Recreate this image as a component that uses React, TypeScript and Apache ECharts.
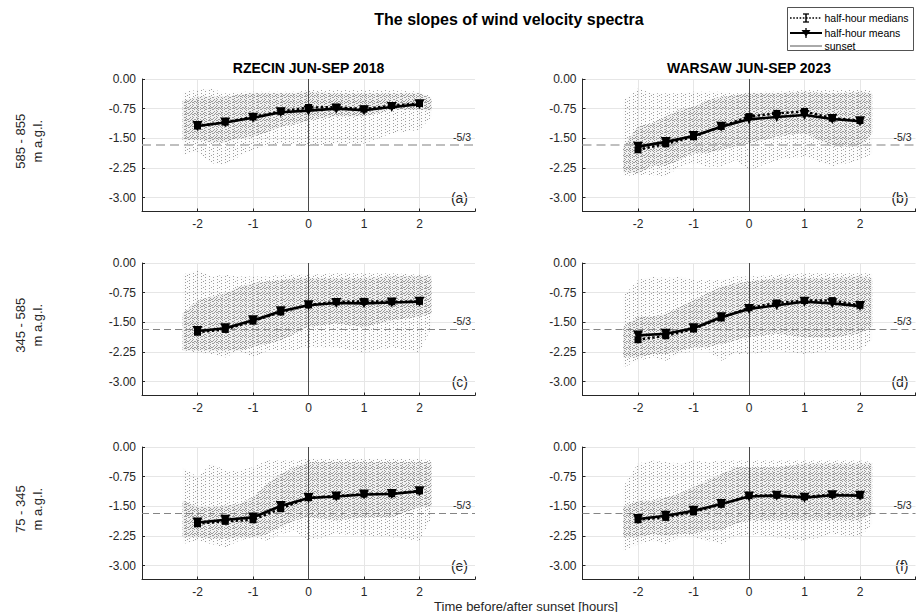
import React, { useEffect, useRef } from "react";
import * as echarts from "echarts";

// ---------- data ----------
// hours before/after sunset of the half-hour statistics
const HOURS = [-2, -1.5, -1, -0.5, 0, 0.5, 1, 1.5, 2];
const X_TICK_LABELS = ["-2", "-1", "0", "1", "2"];
const Y_TICK_VALUES = [0, -0.75, -1.5, -2.25, -3];
const KOLMOGOROV = -5 / 3;

// (a) Rzecin 585-855 m
const MEANS_A = [-1.19, -1.1, -0.98, -0.84, -0.8, -0.75, -0.79, -0.71, -0.64];
const MEDIANS_A = [-1.19, -1.09, -0.96, -0.82, -0.72, -0.71, -0.76, -0.67, -0.62];
// (b) Warsaw 585-855 m
const MEANS_B = [-1.71, -1.59, -1.44, -1.21, -1.02, -0.96, -0.91, -1.01, -1.07];
const MEDIANS_B = [-1.79, -1.64, -1.46, -1.2, -0.95, -0.87, -0.82, -0.99, -1.05];
// (c) Rzecin 345-585 m
const MEANS_C = [-1.72, -1.65, -1.45, -1.22, -1.07, -1.01, -1.02, -1.0, -0.98];
const MEDIANS_C = [-1.75, -1.68, -1.47, -1.24, -1.06, -0.98, -0.97, -0.98, -0.97];
// (d) Warsaw 345-585 m
const MEANS_D = [-1.83, -1.79, -1.65, -1.37, -1.16, -1.07, -0.98, -1.02, -1.09];
const MEDIANS_D = [-1.94, -1.84, -1.67, -1.39, -1.13, -1.01, -0.95, -0.95, -1.07];
// (e) Rzecin 75-345 m
const MEANS_E = [-1.91, -1.84, -1.78, -1.49, -1.29, -1.25, -1.2, -1.19, -1.12];
const MEDIANS_E = [-1.94, -1.88, -1.84, -1.56, -1.28, -1.24, -1.19, -1.18, -1.11];
// (f) Warsaw 75-345 m
const MEANS_F = [-1.82, -1.74, -1.61, -1.44, -1.25, -1.23, -1.28, -1.22, -1.23];
const MEDIANS_F = [-1.84, -1.78, -1.64, -1.45, -1.23, -1.22, -1.26, -1.2, -1.22];

// extent of the cloud of individual slope estimates (outer = sparse, core = dense)
const CLOUD_X = [-2.27, -2, -1.75, -1.5, -1.25, -1, -0.75, -0.5, -0.25, 0, 0.5, 1, 1.5, 2, 2.22];

const A_HI_OUT = [-0.32, -0.28, -0.24, -0.36, -0.32, -0.32, -0.32, -0.32, -0.32, -0.28, -0.28, -0.28, -0.28, -0.32, -0.45];
const A_LO_OUT = [-1.92, -1.84, -2.13, -2.17, -1.96, -1.79, -1.71, -1.63, -1.67, -1.71, -1.63, -1.63, -1.37, -1.29, -0.95];
const A_HI_CORE = [-0.55, -0.45, -0.45, -0.45, -0.4, -0.36, -0.36, -0.36, -0.36, -0.32, -0.36, -0.36, -0.36, -0.36, -0.5];
const A_LO_CORE = [-1.55, -1.54, -1.6, -1.6, -1.5, -1.46, -1.35, -1.2, -1.15, -1.04, -0.95, -0.95, -0.78, -0.78, -0.8];

const B_HI_OUT = [-0.55, -0.24, -0.36, -0.36, -0.36, -0.32, -0.32, -0.32, -0.36, -0.32, -0.32, -0.28, -0.28, -0.28, -0.28];
const B_LO_OUT = [-2.45, -2.43, -2.43, -2.47, -2.22, -2.13, -2.22, -2.22, -2.05, -2.3, -2.05, -1.96, -2.22, -2.05, -1.88];
const B_HI_CORE = [-1.7, -1.2, -1.12, -0.95, -0.78, -0.7, -0.53, -0.45, -0.41, -0.36, -0.36, -0.32, -0.36, -0.32, -0.36];
const B_LO_CORE = [-2.35, -2.38, -2.2, -2.2, -2.05, -1.88, -1.88, -1.79, -1.71, -1.63, -1.46, -1.37, -1.71, -1.71, -1.37];

const C_HI_OUT = [-0.3, -0.17, -0.34, -0.3, -0.34, -0.34, -0.34, -0.3, -0.3, -0.3, -0.26, -0.26, -0.26, -0.3, -0.3];
const C_LO_OUT = [-2.22, -2.26, -2.3, -2.39, -2.22, -2.39, -2.22, -2.22, -2.22, -2.13, -2.13, -2.26, -2.13, -2.26, -1.62];
const C_HI_CORE = [-1.28, -0.94, -0.85, -0.77, -0.6, -0.51, -0.47, -0.43, -0.38, -0.38, -0.38, -0.38, -0.34, -0.34, -0.34];
const C_LO_CORE = [-2.22, -2.22, -2.22, -2.22, -2.22, -2.13, -2.05, -1.96, -1.79, -1.62, -1.53, -1.62, -1.45, -1.36, -1.28];

const D_HI_OUT = [-0.85, -0.43, -0.34, -0.38, -0.34, -0.43, -0.43, -0.43, -0.34, -0.34, -0.3, -0.26, -0.26, -0.26, -0.26];
const D_LO_OUT = [-2.64, -2.47, -2.39, -2.47, -2.3, -2.22, -2.22, -2.47, -2.3, -2.3, -2.22, -2.3, -2.22, -2.22, -1.96];
const D_HI_CORE = [-1.62, -1.36, -1.36, -1.28, -1.11, -0.94, -0.77, -0.6, -0.51, -0.47, -0.38, -0.38, -0.38, -0.34, -0.38];
const D_LO_CORE = [-2.39, -2.39, -2.3, -2.3, -2.22, -2.13, -2.13, -2.05, -1.96, -1.88, -1.79, -1.88, -1.88, -1.79, -1.62];

const E_HI_OUT = [-0.51, -0.76, -0.42, -0.59, -0.59, -0.51, -0.34, -0.34, -0.34, -0.3, -0.3, -0.3, -0.3, -0.3, -0.34];
const E_LO_OUT = [-2.45, -2.37, -2.45, -2.54, -2.37, -2.28, -2.37, -2.2, -2.11, -2.37, -2.2, -2.24, -2.28, -2.37, -1.78];
const E_HI_CORE = [-1.35, -1.52, -1.52, -1.48, -1.44, -1.27, -0.93, -0.68, -0.51, -0.38, -0.38, -0.38, -0.38, -0.38, -0.38];
const E_LO_CORE = [-2.28, -2.28, -2.32, -2.32, -2.28, -2.28, -2.2, -2.03, -1.86, -1.78, -1.86, -1.78, -1.78, -1.52, -1.52];

const F_HI_OUT = [-1.01, -0.42, -0.34, -0.38, -0.42, -0.34, -0.38, -0.34, -0.34, -0.34, -0.34, -0.34, -0.34, -0.34, -0.38];
const F_LO_OUT = [-2.62, -2.45, -2.37, -2.45, -2.28, -2.28, -2.37, -2.45, -2.28, -2.2, -2.28, -2.37, -2.2, -2.28, -1.94];
const F_HI_CORE = [-1.52, -1.35, -1.35, -1.27, -1.18, -1.01, -0.85, -0.68, -0.51, -0.51, -0.51, -0.42, -0.42, -0.42, -0.42];
const F_LO_CORE = [-2.28, -2.28, -2.2, -2.24, -2.2, -2.2, -2.11, -2.11, -1.94, -1.86, -1.86, -1.86, -1.86, -1.86, -1.69];

const COLUMN_TITLES = ["RZECIN JUN-SEP 2018", "WARSAW JUN-SEP 2023"];
const ROW_LABELS = ["585 - 855\nm a.g.l.", "345 - 585\nm a.g.l.", "75 - 345\nm a.g.l."];
const PANEL_LETTERS = ["(a)", "(b)", "(c)", "(d)", "(e)", "(f)"];

// ---------- layout / style ----------
const FONT = '"Liberation Sans", Arial, Helvetica, sans-serif';
const INK = "#262626";
const COL_LEFT = [142, 582.5];
const ROW_TOP = [79, 263, 447];
const PANEL_W = 333;
const PANEL_H = 132.5;
const Y_BOTTOM = -3.35;
const X_MIN = -3;
const X_MAX = 3;
const GRID_COLOR = "#e6e6e6";

const PANELS = [
  { means: MEANS_A, medians: MEDIANS_A, cloud: [A_HI_OUT, A_LO_OUT, A_HI_CORE, A_LO_CORE] },
  { means: MEANS_B, medians: MEDIANS_B, cloud: [B_HI_OUT, B_LO_OUT, B_HI_CORE, B_LO_CORE] },
  { means: MEANS_C, medians: MEDIANS_C, cloud: [C_HI_OUT, C_LO_OUT, C_HI_CORE, C_LO_CORE] },
  { means: MEANS_D, medians: MEDIANS_D, cloud: [D_HI_OUT, D_LO_OUT, D_HI_CORE, D_LO_CORE] },
  { means: MEANS_E, medians: MEDIANS_E, cloud: [E_HI_OUT, E_LO_OUT, E_HI_CORE, E_LO_CORE] },
  { means: MEANS_F, medians: MEDIANS_F, cloud: [F_HI_OUT, F_LO_OUT, F_HI_CORE, F_LO_CORE] },
];

// small fixed texture tiles giving the cloud areas a speckled, streaky look
function makeTile(w: number, h: number, dots: number[][], dotColor: string, bg?: string): any {
  const c = document.createElement("canvas");
  c.width = w;
  c.height = h;
  const ctx = c.getContext("2d");
  if (ctx) {
    if (bg) {
      ctx.fillStyle = bg;
      ctx.fillRect(0, 0, w, h);
    }
    ctx.fillStyle = dotColor;
    dots.forEach(([x, y]) => ctx.fillRect(x, y, 1, 1));
  }
  return c;
}

function buildOption() {
  const outerTile = makeTile(
    8,
    6,
    [
      [1, 0],
      [1, 3],
      [5, 1],
      [5, 4],
      [3, 5],
    ],
    "rgba(125,125,125,0.75)",
    "rgba(160,160,160,0.03)"
  );
  const coreTile = makeTile(
    6,
    6,
    [
      [0, 0],
      [0, 2],
      [0, 4],
      [2, 1],
      [2, 5],
      [4, 0],
      [4, 3],
      [5, 5],
    ],
    "rgba(125,125,125,0.75)",
    "rgba(150,150,150,0.10)"
  );
  const OUT_FILL: any = { image: outerTile, repeat: "repeat" };
  const CORE_FILL: any = { image: coreTile, repeat: "repeat" };

  const grid: any[] = [];
  const xAxis: any[] = [];
  const yAxis: any[] = [];
  const series: any[] = [];
  const graphic: any[] = [];

  PANELS.forEach((p, i) => {
    const row = Math.floor(i / 2);
    const col = i % 2;
    grid.push({
      left: COL_LEFT[col],
      top: ROW_TOP[row],
      width: PANEL_W,
      height: PANEL_H,
      containLabel: false,
      outerBoundsMode: "none",
    });
    xAxis.push({
      gridIndex: i,
      type: "value",
      min: X_MIN,
      max: X_MAX,
      interval: 1,
      axisLine: { show: true, onZero: false, lineStyle: { color: INK, width: 1 } },
      axisTick: { show: true, inside: true, length: 3, lineStyle: { color: INK } },
      axisLabel: {
        color: INK,
        fontSize: 12,
        fontFamily: FONT,
        margin: 6,
        formatter: (v: number) => {
          const s = String(v);
          return X_TICK_LABELS.indexOf(s) >= 0 ? s : "";
        },
      },
      splitLine: { show: true, showMinLine: false, showMaxLine: false, lineStyle: { color: GRID_COLOR, width: 1 } },
    });
    yAxis.push({
      gridIndex: i,
      type: "value",
      inverse: true,
      min: 0,
      max: -Y_BOTTOM,
      interval: 0.75,
      axisLine: { show: true, onZero: false, lineStyle: { color: INK, width: 1 } },
      axisTick: { show: true, inside: true, length: 3, lineStyle: { color: INK } },
      axisLabel: {
        color: INK,
        fontSize: 12,
        fontFamily: FONT,
        margin: 6,
        showMaxLabel: false,
        formatter: (v: number) => {
          const hit = Y_TICK_VALUES.find((t) => Math.abs(-t - v) < 1e-6);
          if (hit === undefined) return "";
          return hit === 0 ? "0.00" : hit.toFixed(2);
        },
      },
      splitLine: { show: true, showMaxLine: false, lineStyle: { color: GRID_COLOR, width: 1 } },
    });

    const [hiOut, loOut, hiCore, loCore] = p.cloud;
    series.push({
      type: "custom",
      xAxisIndex: i,
      yAxisIndex: i,
      silent: true,
      z: 1,
      data: [
        [0, 0],
        [1, 0],
      ],
      renderItem: (params: any, api: any) => {
        const core = params.dataIndex === 1;
        const hi = core ? hiCore : hiOut;
        const lo = core ? loCore : loOut;
        const pts: number[][] = [];
        for (let k = 0; k < CLOUD_X.length; k++) pts.push(api.coord([CLOUD_X[k], -hi[k]]));
        for (let k = CLOUD_X.length - 1; k >= 0; k--) pts.push(api.coord([CLOUD_X[k], -lo[k]]));
        return {
          type: "polygon",
          shape: { points: pts },
          style: { fill: core ? CORE_FILL : OUT_FILL, stroke: "none" },
        };
      },
    });

    const dashed =
      row === 0
        ? { color: "#ababab", width: 1.6, type: [9, 5] }
        : { color: "#858585", width: 1, type: [7, 4] };

    series.push({
      type: "line",
      name: "half-hour medians",
      xAxisIndex: i,
      yAxisIndex: i,
      silent: true,
      z: 3,
      data: HOURS.map((h, k) => [h, -p.medians[k]]),
      lineStyle: { color: "#000", width: 2.4, type: "dotted" },
      itemStyle: { color: "#000" },
      symbol: "rect",
      symbolSize: 7,
      markLine: {
        silent: true,
        symbol: "none",
        z: 2,
        animation: false,
        data: [
          { xAxis: 0, lineStyle: { color: "#4a4a4a", width: 1, type: "solid" }, label: { show: false } },
          {
            yAxis: -KOLMOGOROV,
            lineStyle: dashed,
            label: {
              show: true,
              position: "insideEndTop",
              formatter: "-5/3",
              color: INK,
              fontSize: 10.5,
              fontFamily: FONT,
              distance: [4, 3],
            },
          },
        ],
      },
    });
    series.push({
      type: "line",
      name: "half-hour means",
      xAxisIndex: i,
      yAxisIndex: i,
      silent: true,
      z: 4,
      data: HOURS.map((h, k) => [h, -p.means[k]]),
      lineStyle: { color: "#000", width: 2.6 },
      itemStyle: { color: "#000" },
      symbol: "triangle",
      symbolRotate: 180,
      symbolSize: 10,
    });

    graphic.push({
      type: "text",
      x: COL_LEFT[col] + PANEL_W - 7,
      y: ROW_TOP[row] + PANEL_H * (3.0 / -Y_BOTTOM),
      silent: true,
      style: {
        text: PANEL_LETTERS[i],
        fill: INK,
        fontSize: 14,
        fontFamily: FONT,
        align: "right",
        verticalAlign: "middle",
      },
    });
  });

  // titles
  graphic.push({
    type: "text",
    x: 509,
    y: 19,
    silent: true,
    style: {
      text: "The slopes of wind velocity spectra",
      fill: "#000",
      fontSize: 16,
      fontWeight: "bold",
      fontFamily: FONT,
      align: "center",
      verticalAlign: "middle",
    },
  });
  COLUMN_TITLES.forEach((t, c) => {
    graphic.push({
      type: "text",
      x: COL_LEFT[c] + PANEL_W / 2,
      y: 68,
      silent: true,
      style: {
        text: t,
        fill: "#000",
        fontSize: 14,
        fontWeight: "bold",
        fontFamily: FONT,
        align: "center",
        verticalAlign: "middle",
      },
    });
  });
  ROW_LABELS.forEach((t, r) => {
    graphic.push({
      type: "text",
      x: 29,
      y: ROW_TOP[r] + PANEL_H / 2 - 4,
      rotation: Math.PI / 2,
      silent: true,
      style: {
        text: t,
        fill: INK,
        fontSize: 13,
        lineHeight: 17,
        fontFamily: FONT,
        align: "center",
        verticalAlign: "middle",
      },
    });
  });
  graphic.push({
    type: "text",
    x: 526,
    y: 606,
    silent: true,
    style: {
      text: "Time before/after sunset [hours]",
      fill: INK,
      fontSize: 13,
      fontFamily: FONT,
      align: "center",
      verticalAlign: "middle",
    },
  });

  // legend box
  const lx0 = 790;
  const lx1 = 822;
  const mx = 806;
  const rows = [18, 33, 46];
  graphic.push(
    {
      type: "rect",
      silent: true,
      shape: { x: 787.5, y: 7.5, width: 126, height: 43 },
      style: { fill: "#fff", stroke: INK, lineWidth: 0.8 },
    },
    {
      type: "line",
      silent: true,
      shape: { x1: lx0, y1: rows[0], x2: lx1, y2: rows[0] },
      style: { stroke: "#000", lineWidth: 1.6, lineDash: [1.6, 1.6] },
    },
    { type: "line", silent: true, shape: { x1: mx, y1: rows[0] - 4, x2: mx, y2: rows[0] + 4 }, style: { stroke: "#000", lineWidth: 1.5 } },
    { type: "line", silent: true, shape: { x1: mx - 3, y1: rows[0] - 4, x2: mx + 3, y2: rows[0] - 4 }, style: { stroke: "#000", lineWidth: 1.3 } },
    { type: "line", silent: true, shape: { x1: mx - 3, y1: rows[0] + 4, x2: mx + 3, y2: rows[0] + 4 }, style: { stroke: "#000", lineWidth: 1.3 } },
    {
      type: "line",
      silent: true,
      shape: { x1: lx0, y1: rows[1], x2: lx1, y2: rows[1] },
      style: { stroke: "#000", lineWidth: 2 },
    },
    {
      type: "polygon",
      silent: true,
      shape: {
        points: [
          [mx - 4.5, rows[1] - 3],
          [mx + 4.5, rows[1] - 3],
          [mx, rows[1] + 3.5],
        ],
      },
      style: { fill: "#000" },
    },
    { type: "line", silent: true, shape: { x1: mx, y1: rows[1] - 5, x2: mx, y2: rows[1] + 5 }, style: { stroke: "#000", lineWidth: 1.3 } },
    {
      type: "line",
      silent: true,
      shape: { x1: lx0, y1: rows[2], x2: lx1, y2: rows[2] },
      style: { stroke: "#555", lineWidth: 1 },
    }
  );
  ["half-hour medians", "half-hour means", "sunset"].forEach((t, k) => {
    graphic.push({
      type: "text",
      x: 824.5,
      y: rows[k],
      silent: true,
      style: { text: t, fill: "#000", fontSize: 10.5, fontFamily: FONT, align: "left", verticalAlign: "middle" },
    });
  });

  return {
    animation: false,
    backgroundColor: "#ffffff",
    textStyle: { fontFamily: FONT },
    grid,
    xAxis,
    yAxis,
    series,
    graphic,
  };
}

export default function App() {
  const ref = useRef<HTMLDivElement>(null);
  useEffect(() => {
    if (!ref.current) return;
    const chart = echarts.init(ref.current, null, { renderer: "svg" });
    chart.setOption(buildOption() as any);
    return () => chart.dispose();
  }, []);
  return (
    <div
      ref={ref}
      style={{ position: "fixed", left: 0, top: 0, width: 919, height: 612, background: "#fff" }}
    />
  );
}
